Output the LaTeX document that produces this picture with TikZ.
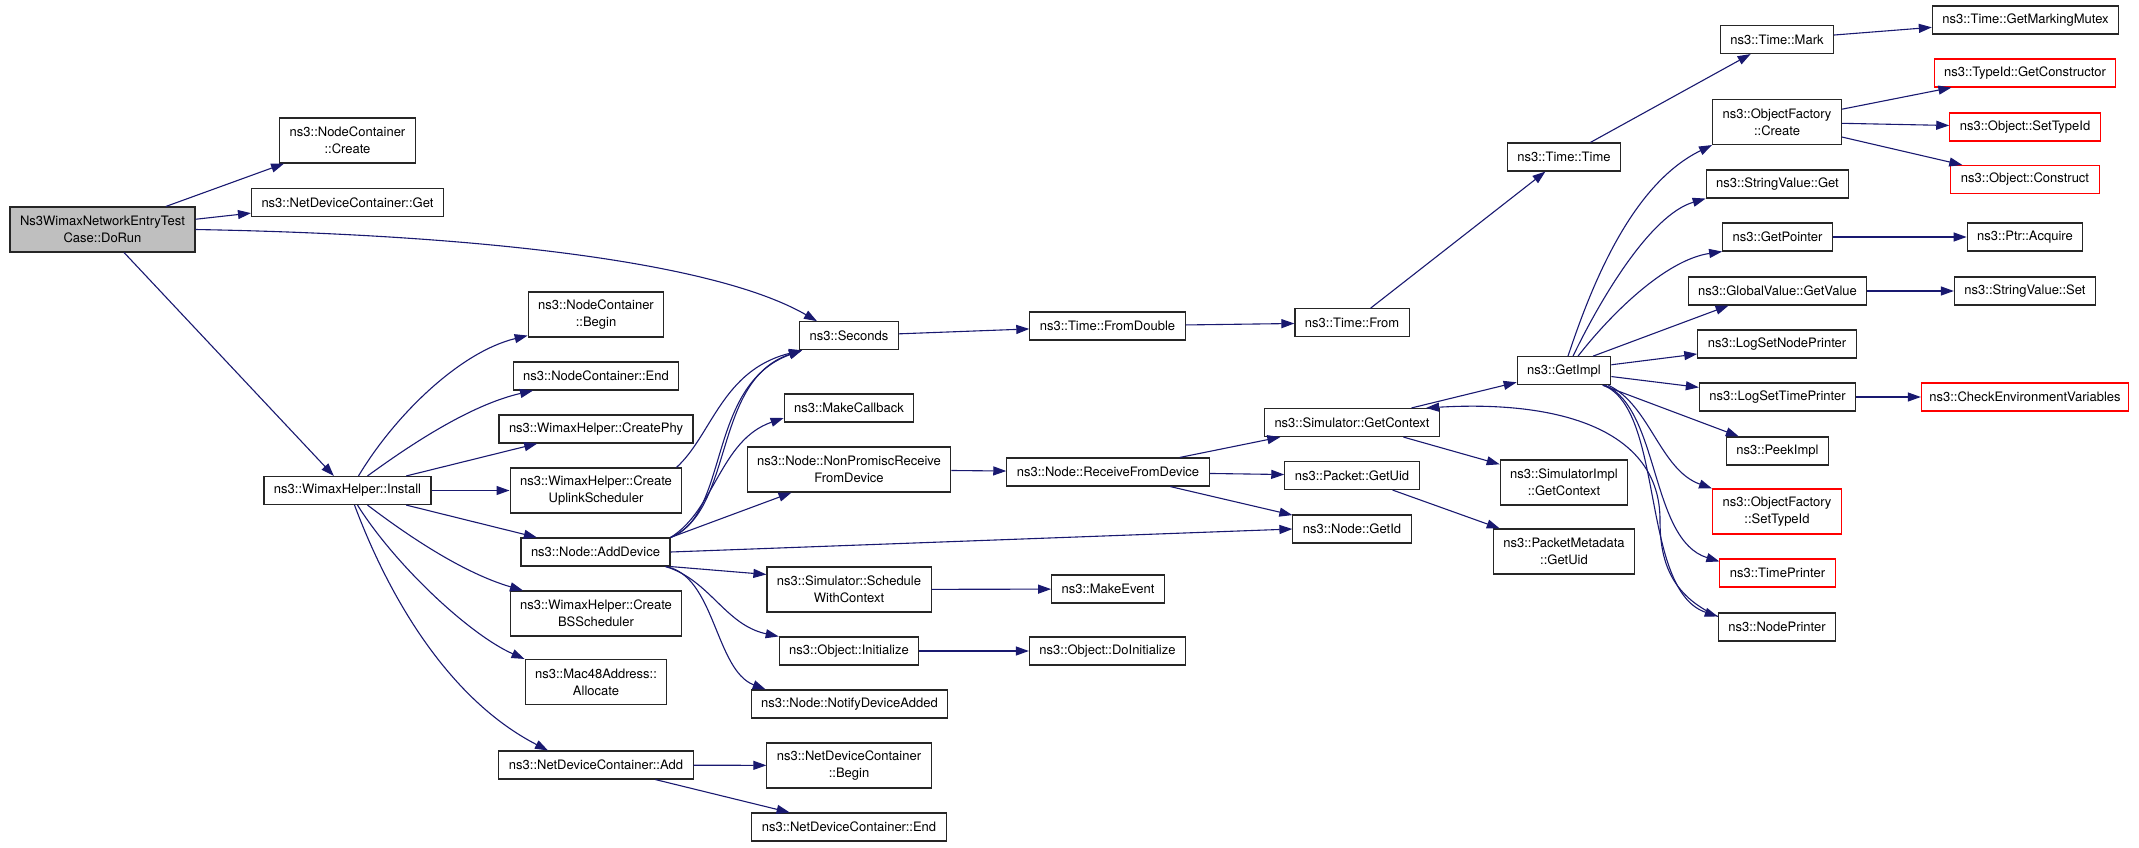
\documentclass[tikz,border=0pt]{standalone}
\usepackage{fontspec}
\setmainfont{TeX Gyre Heros}
\usetikzlibrary{arrows.meta}
\definecolor{callblue}{HTML}{191970}
\definecolor{boxgray}{HTML}{BFBFBF}
\tikzstyle{func}=[rectangle,draw=black!85,fill=white,line width=1.1pt,inner xsep=10pt,inner ysep=2pt,minimum height=28pt,align=center,font=\fontsize{13}{17}\selectfont]
\tikzstyle{func2}=[func,minimum height=45pt]
\tikzstyle{undoc}=[draw=red]
\tikzstyle{call}=[draw=callblue,line width=1.1pt,-{Triangle[length=13pt,width=9pt]}]
\begin{document}
\begin{tikzpicture}[x=1pt,y=-1pt]
    \useasboundingbox (0,0) rectangle (2139,847);
    \node[func2,fill=boxgray] (DoRun) at (102.5,229.5) {Ns3WimaxNetworkEntryTest\\Case::DoRun};
    \node[func2] (NCCreate) at (347.5,140.5) {ns3::NodeContainer\\::Create};
    \node[func] (NDCGet) at (347.5,202.5) {ns3::NetDeviceContainer::Get};
    \node[func] (Install) at (347.5,490.5) {ns3::WimaxHelper::Install};
    \node[func2] (NCBegin) at (596,314.5) {ns3::NodeContainer\\::Begin};
    \node[func] (NCEnd) at (596,376) {ns3::NodeContainer::End};
    \node[func] (CreatePhy) at (596,429) {ns3::WimaxHelper::CreatePhy};
    \node[func2] (CreateUL) at (596,490.5) {ns3::WimaxHelper::Create\\UplinkScheduler};
    \node[func] (AddDevice) at (595.5,552) {ns3::Node::AddDevice};
    \node[func2] (CreateBS) at (596,613.5) {ns3::WimaxHelper::Create\\BSScheduler};
    \node[func2] (Allocate) at (596,682) {ns3::Mac48Address::\\Allocate};
    \node[func] (NDCAdd) at (596,765) {ns3::NetDeviceContainer::Add};
    \node[func] (Seconds) at (849,335.7) {ns3::Seconds};
    \node[func] (MakeCallback) at (849,408) {ns3::MakeCallback};
    \node[func2] (NonPromisc) at (849,469.5) {ns3::Node::NonPromiscReceive\\FromDevice};
    \node[func2] (Schedule) at (849,589.5) {ns3::Simulator::Schedule\\WithContext};
    \node[func] (Initialize) at (849,651) {ns3::Object::Initialize};
    \node[func] (Notify) at (849.5,704) {ns3::Node::NotifyDeviceAdded};
    \node[func2] (NDCBegin) at (849,765.5) {ns3::NetDeviceContainer\\::Begin};
    \node[func] (NDCEnd) at (849,827) {ns3::NetDeviceContainer::End};
    \node[func] (FromDouble) at (1107.5,326) {ns3::Time::FromDouble};
    \node[func] (Receive) at (1108,472) {ns3::Node::ReceiveFromDevice};
    \node[func] (MakeEvent) at (1108,589) {ns3::MakeEvent};
    \node[func] (DoInit) at (1107.5,651) {ns3::Object::DoInitialize};
    \node[func] (From) at (1352,322.7) {ns3::Time::From};
    \node[func] (GetContext) at (1352,422.5) {ns3::Simulator::GetContext};
    \node[func] (PktUid) at (1352,475.5) {ns3::Packet::GetUid};
    \node[func] (GetId) at (1352,529) {ns3::Node::GetId};
    \node[func] (TimeTime) at (1564,157) {ns3::Time::Time};
    \node[func] (GetImpl) at (1564,370.7) {ns3::GetImpl};
    \node[func2] (ImplContext) at (1564,482.5) {ns3::SimulatorImpl\\::GetContext};
    \node[func2] (MetaUid) at (1564,551.5) {ns3::PacketMetadata\\::GetUid};
    \node[func] (Mark) at (1777,39.5) {ns3::Time::Mark};
    \node[func2] (OFCreate) at (1777,122) {ns3::ObjectFactory\\::Create};
    \node[func] (SVGet) at (1777.5,184) {ns3::StringValue::Get};
    \node[func] (GetPointer) at (1777.5,237) {ns3::GetPointer};
    \node[func] (GetValue) at (1777.5,291) {ns3::GlobalValue::GetValue};
    \node[func] (SetNodePr) at (1777,344) {ns3::LogSetNodePrinter};
    \node[func] (SetTimePr) at (1777.5,397) {ns3::LogSetTimePrinter};
    \node[func] (PeekImpl) at (1777.5,451) {ns3::PeekImpl};
    \node[func2,undoc] (OFSetTypeId) at (1777,511.5) {ns3::ObjectFactory\\::SetTypeId};
    \node[func,undoc] (TimePrinter) at (1777.5,573) {ns3::TimePrinter};
    \node[func] (NodePrinter) at (1777,627) {ns3::NodePrinter};
    \node[func] (Mutex) at (2025.5,20) {ns3::Time::GetMarkingMutex};
    \node[func,undoc] (GetCtor) at (2025,73) {ns3::TypeId::GetConstructor};
    \node[func,undoc] (SetTypeId) at (2025,127) {ns3::Object::SetTypeId};
    \node[func,undoc] (Construct) at (2025,179.5) {ns3::Object::Construct};
    \node[func] (Acquire) at (2025,237) {ns3::Ptr::Acquire};
    \node[func] (SVSet) at (2025,291) {ns3::StringValue::Set};
    \node[func,undoc,inner xsep=8pt] (CheckEnv) at (2025,397) {ns3::CheckEnvironmentVariables};

    \draw[call] (DoRun) -- (NCCreate);
    \draw[call] (DoRun) -- (NDCGet);
    \draw[call] (DoRun) -- (Install);
    \draw[call] (DoRun.east) .. controls (500,235) and (720,265) .. ([xshift=-32pt]Seconds.north);
    \draw[call] ([xshift=11pt]Install.north) .. controls (395,415) and (460,352) .. ([yshift=2pt]NCBegin.south west);
    \draw[call] ([xshift=20pt]Install.north) .. controls (410,445) and (470,405) .. ([xshift=-63pt]NCEnd.south);
    \draw[call] (Install) -- (CreatePhy);
    \draw[call] (Install) -- (CreateUL);
    \draw[call] (Install) -- (AddDevice);
    \draw[call] ([xshift=20pt]Install.south) .. controls (420,545) and (470,575) .. ([xshift=-73pt]CreateBS.north);
    \draw[call] ([xshift=10pt]Install.south) .. controls (395,565) and (470,635) .. (Allocate.north west);
    \draw[call] ([xshift=7pt]Install.south) .. controls (390,600) and (450,700) .. ([xshift=-48pt]NDCAdd.north);
    \draw[call] ([xshift=-6pt]CreateUL.north east) .. controls (712,435) and (722,370) .. ([xshift=3pt]Seconds.south west);
    \draw[call] (AddDevice.north east) .. controls (735,510) and (712,380) .. ([xshift=3pt]Seconds.south west);
    \draw[call] (AddDevice.north east) .. controls (730,515) and (706,385) .. ([xshift=3pt]Seconds.south west);
    \draw[call] (AddDevice.north east) .. controls (715,510) and (720,440) .. ([yshift=-10pt]MakeCallback.west);
    \draw[call] (AddDevice.north east) -- ([xshift=45pt]NonPromisc.south west);
    \draw[call] (AddDevice.east) -- (GetId.west);
    \draw[call] (AddDevice.south east) -- ([yshift=-8pt]Schedule.north west);
    \draw[call] ([xshift=-5pt]AddDevice.south east) .. controls (710,580) and (725,625) .. (Initialize.north west);
    \draw[call] ([xshift=-5pt]AddDevice.south east) .. controls (715,575) and (715,670) .. ([xshift=15pt]Notify.north west);
    \draw[call] (NDCAdd) -- (NDCBegin);
    \draw[call] (NDCAdd) -- (NDCEnd);
    \draw[call] (Seconds) -- (FromDouble);
    \draw[call] (FromDouble) -- (From);
    \draw[call] (From) -- (TimeTime);
    \draw[call] (TimeTime) -- (Mark);
    \draw[call] (Mark) -- (Mutex);
    \draw[call] (NonPromisc) -- (Receive);
    \draw[call] (Receive) -- (GetContext);
    \draw[call] (Receive) -- (PktUid);
    \draw[call] (Receive) -- (GetId);
    \draw[call] (Schedule) -- (MakeEvent);
    \draw[call] (Initialize) -- (DoInit);
    \draw[call] (GetContext) -- (GetImpl);
    \draw[call] (GetContext) -- (ImplContext);
    \draw[call] (PktUid) -- (MetaUid);
    \draw[call] ([xshift=4pt]GetImpl.north) .. controls (1590,290) and (1630,185) .. (OFCreate.south west);
    \draw[call] ([xshift=9pt]GetImpl.north) .. controls (1600,300) and (1650,215) .. (SVGet.south west);
    \draw[call] ([xshift=14pt]GetImpl.north) .. controls (1610,315) and (1665,260) .. (GetPointer.south west);
    \draw[call] ([xshift=29pt]GetImpl.north) -- ([xshift=41pt]GetValue.south west);
    \draw[call] (GetImpl) -- (SetNodePr);
    \draw[call] (GetImpl) -- (SetTimePr);
    \draw[call] (GetImpl) -- (PeekImpl);
    \draw[call] ([xshift=-3pt]GetImpl.south east) .. controls (1650,405) and (1660,470) .. (OFSetTypeId.north west);
    \draw[call] ([xshift=-6pt]GetImpl.south east) .. controls (1660,410) and (1650,540) .. ([yshift=-3pt]TimePrinter.north west);
    \draw[call] ([xshift=-8pt]GetImpl.south east) .. controls (1665,410) and (1640,590) .. ([yshift=-4pt]NodePrinter.north west);
    \draw[call] ([yshift=-4pt]NodePrinter.north west) .. controls (1670,595) and (1660,560) .. (1660,520) .. controls (1660,430) and (1560,400) .. ([xshift=-14pt]GetContext.north east);
    \draw[call] (OFCreate) -- (GetCtor);
    \draw[call] (OFCreate) -- (SetTypeId);
    \draw[call] (OFCreate) -- (Construct);
    \draw[call] (GetPointer) -- (Acquire);
    \draw[call] (GetValue) -- (SVSet);
    \draw[call] (SetTimePr) -- (CheckEnv);
\end{tikzpicture}
\end{document}
